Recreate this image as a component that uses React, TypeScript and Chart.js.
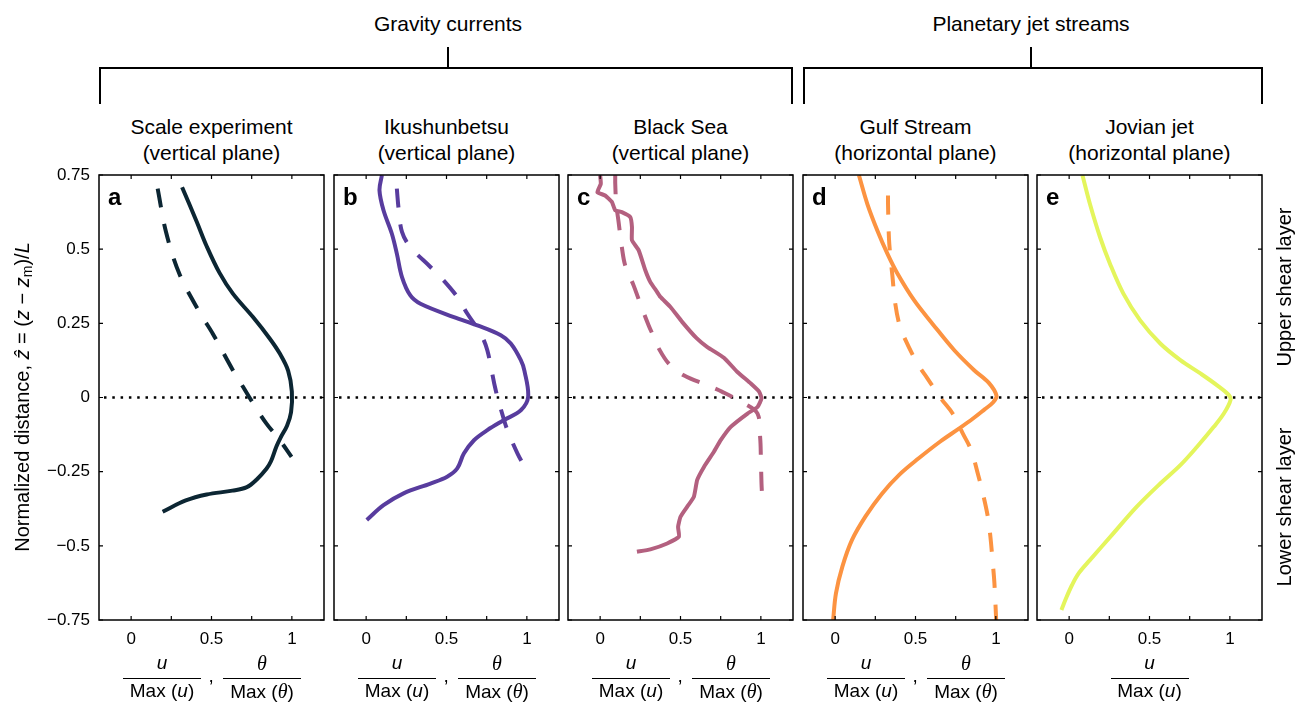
import React, { useEffect, useRef } from "react";
import { Chart, registerables } from "chart.js";

Chart.register(...registerables);

const FONT = '"Liberation Sans", Arial, Helvetica, sans-serif';
const SERIF = '"Liberation Serif", "DejaVu Serif", serif';

// ---------- axis definitions ----------
const xTicks = [0, 0.25, 0.5, 0.75, 1];
const xTickLabels: Record<string, string> = { "0": "0", "0.5": "0.5", "1": "1" };
const yTicks = [-0.75, -0.5, -0.25, 0, 0.25, 0.5, 0.75];
const yTickLabels: Record<string, string> = {
  "-0.75": "\u22120.75",
  "-0.5": "\u22120.5",
  "-0.25": "\u22120.25",
  "0": "0",
  "0.25": "0.25",
  "0.5": "0.5",
  "0.75": "0.75",
};
const xMin = -0.2;
const xMax = 1.2;
const yMin = -0.75;
const yMax = 0.75;

// ---------- panel texts ----------
const groupNames = ["Gravity currents", "Planetary jet streams"];
const panelLetters = ["a", "b", "c", "d", "e"];
const panelTitles = ["Scale experiment", "Ikushunbetsu", "Black Sea", "Gulf Stream", "Jovian jet"];
const panelPlanes = [
  "(vertical plane)",
  "(vertical plane)",
  "(vertical plane)",
  "(horizontal plane)",
  "(horizontal plane)",
];
const panelColors = ["#0c2633", "#583c9e", "#b3607f", "#fc9341", "#e4f55c"];

// ---------- data: [normalized value, normalized distance] ----------
const scaleU: [number, number][] = [
  [0.317, 0.709], [0.41, 0.59], [0.47, 0.51], [0.55, 0.42], [0.633, 0.35], [0.758, 0.271],
  [0.862, 0.199], [0.925, 0.148], [0.977, 0.09], [1.0, 0.02], [0.995, -0.05], [0.97, -0.095],
  [0.93, -0.135], [0.904, -0.165], [0.87, -0.215], [0.842, -0.24], [0.78, -0.277],
  [0.72, -0.302], [0.63, -0.314], [0.47, -0.327], [0.34, -0.347], [0.196, -0.385],
];
const scaleTheta: [number, number][] = [
  [0.165, 0.704], [0.217, 0.558], [0.3, 0.417], [0.425, 0.288], [0.508, 0.215], [0.633, 0.092],
  [0.696, 0.036], [0.779, -0.037], [0.842, -0.088], [0.925, -0.144], [0.998, -0.2],
];
const ikuU: [number, number][] = [
  [0.098, 0.749], [0.083, 0.698], [0.108, 0.631], [0.16, 0.552], [0.191, 0.485], [0.223, 0.406],
  [0.275, 0.344], [0.338, 0.316], [0.546, 0.271], [0.692, 0.243], [0.838, 0.21], [0.9, 0.182],
  [0.9625, 0.126], [0.985, 0.09], [1.008, 0.002], [0.9625, -0.043], [0.858, -0.076],
  [0.754, -0.11], [0.671, -0.144], [0.608, -0.189], [0.567, -0.239], [0.504, -0.267],
  [0.4, -0.29], [0.233, -0.323], [0.108, -0.363], [0.004, -0.413],
];
const ikuTheta: [number, number][] = [
  [0.191, 0.704], [0.202, 0.636], [0.223, 0.558], [0.275, 0.507], [0.4, 0.44], [0.473, 0.4],
  [0.567, 0.339], [0.629, 0.283], [0.7125, 0.215], [0.754, 0.159], [0.806, 0.025],
  [0.858, -0.076], [0.879, -0.11], [0.942, -0.189], [1.004, -0.25],
];
const blackSeaU: [number, number][] = [
  [0.0, 0.749], [0.004, 0.72], [-0.017, 0.692], [0.031, 0.681], [0.073, 0.659], [0.094, 0.631],
  [0.135, 0.625], [0.1875, 0.608], [0.198, 0.574], [0.198, 0.53], [0.24, 0.496], [0.281, 0.429],
  [0.3125, 0.389], [0.354, 0.356], [0.375, 0.339], [0.4375, 0.305], [0.51, 0.255], [0.6, 0.2],
  [0.667, 0.17], [0.77, 0.134], [0.854, 0.086], [0.9375, 0.047], [0.99, 0.019], [1.004, -0.003],
  [0.979, -0.032], [0.917, -0.054], [0.8125, -0.099], [0.75, -0.144], [0.708, -0.183],
  [0.646, -0.234], [0.604, -0.278], [0.583, -0.335], [0.542, -0.368], [0.5, -0.402],
  [0.485, -0.436], [0.49, -0.469], [0.417, -0.492], [0.3125, -0.512], [0.229, -0.52],
];
const blackSeaTheta: [number, number][] = [
  [0.094, 0.749], [0.094, 0.72], [0.1, 0.653], [0.115, 0.591], [0.135, 0.507], [0.156, 0.445],
  [0.208, 0.378], [0.25, 0.316], [0.302, 0.243], [0.333, 0.205], [0.36, 0.17], [0.427, 0.114],
  [0.52, 0.075], [0.667, 0.041], [0.76, 0.019], [0.896, -0.02], [0.979, -0.054], [0.996, -0.138],
  [1.0, -0.2], [1.004, -0.29], [1.01, -0.351],
];
const gulfU: [number, number][] = [
  [0.148, 0.749], [0.2, 0.653], [0.2625, 0.563], [0.325, 0.485], [0.3875, 0.418], [0.491, 0.328],
  [0.605, 0.249], [0.74, 0.16], [0.865, 0.092], [0.955, 0.05], [1.004, 0.006],
  [0.982, -0.017], [0.93, -0.04], [0.86, -0.07], [0.77, -0.105], [0.65, -0.15], [0.52, -0.205],
  [0.4, -0.26], [0.29, -0.325], [0.19, -0.4], [0.105, -0.48], [0.045, -0.57], [0.005, -0.66],
  [-0.0125, -0.75],
];
const gulfTheta: [number, number][] = [
  [0.329, 0.681], [0.329, 0.653], [0.335, 0.535], [0.346, 0.462], [0.356, 0.412], [0.371, 0.328],
  [0.398, 0.249], [0.429, 0.204], [0.5125, 0.114], [0.575, 0.064], [0.658, -0.003],
  [0.731, -0.054], [0.794, -0.121], [0.846, -0.177], [0.8875, -0.256], [0.919, -0.323],
  [0.95, -0.402], [0.966, -0.469], [0.981, -0.559], [0.991, -0.626], [1.002, -0.75],
];
const jovianU: [number, number][] = [
  [0.083, 0.749], [0.129, 0.653], [0.192, 0.541], [0.254, 0.451], [0.3375, 0.35], [0.442, 0.26],
  [0.567, 0.182], [0.692, 0.126], [0.817, 0.081], [0.921, 0.041], [0.994, 0.008],
  [1.004, -0.009], [0.9625, -0.054], [0.9, -0.099], [0.796, -0.166], [0.692, -0.228],
  [0.567, -0.29], [0.421, -0.368], [0.275, -0.458], [0.129, -0.548], [0.06, -0.592],
  [0.018, -0.632], [-0.018, -0.675], [-0.048, -0.716],
];

const solidSeries = [scaleU, ikuU, blackSeaU, gulfU, jovianU];
const dashedSeries: ([number, number][] | null)[] = [scaleTheta, ikuTheta, blackSeaTheta, gulfTheta, null];
const solidTension = [0.35, 0.35, 0.15, 0.35, 0.35];

// ---------- layout ----------
const PANEL_LEFTS = [99, 334, 568, 803, 1037];
const PANEL_TOP = 175;
const PANEL_W = 225;
const PANEL_H = 445;
const PAD = 8;
const X_AXIS_H = 32;
const Y_AXIS_W = 60;

const framePlugin = {
  id: "frame",
  afterDatasetsDraw(chart: any) {
    const { ctx, chartArea, scales } = chart;
    const { left, right, top, bottom } = chartArea;
    const xs = scales.x;
    const ys = scales.y;
    ctx.save();
    ctx.strokeStyle = "#000";
    ctx.lineWidth = 1.2;
    ctx.beginPath();
    xTicks.forEach((v) => {
      const px = xs.getPixelForValue(v);
      ctx.moveTo(px, bottom);
      ctx.lineTo(px, bottom - 4);
      ctx.moveTo(px, top);
      ctx.lineTo(px, top + 4);
    });
    yTicks.forEach((v) => {
      const py = ys.getPixelForValue(v);
      ctx.moveTo(left, py);
      ctx.lineTo(left + 4, py);
      ctx.moveTo(right, py);
      ctx.lineTo(right - 4, py);
    });
    ctx.stroke();
    ctx.lineWidth = 1.5;
    ctx.strokeRect(left, top, right - left, bottom - top);
    ctx.restore();
  },
};

function toPts(arr: [number, number][]) {
  return arr.map(([x, y]) => ({ x, y }));
}

function Panel({ index }: { index: number }) {
  const ref = useRef<HTMLCanvasElement>(null);
  const padL = index === 0 ? PANEL_LEFTS[0] : PAD;
  const yW = index === 0 ? Y_AXIS_W : 0;
  const cw = padL + PANEL_W + PAD;
  const ch = PAD + PANEL_H + X_AXIS_H;
  const cl = PANEL_LEFTS[index] - padL;
  const ct = PANEL_TOP - PAD;

  useEffect(() => {
    const color = panelColors[index];
    const datasets: any[] = [
      {
        data: toPts(solidSeries[index]),
        showLine: true,
        borderColor: color,
        borderWidth: 4,
        pointRadius: 0,
        tension: solidTension[index],
        borderCapStyle: "butt",
        borderJoinStyle: "round",
        order: 1,
      },
    ];
    const dashed = dashedSeries[index];
    if (dashed) {
      datasets.push({
        data: toPts(dashed),
        showLine: true,
        borderColor: color,
        borderWidth: 4,
        pointRadius: 0,
        tension: 0.35,
        borderDash: [19, 17],
        borderCapStyle: "butt",
        order: 2,
      });
    }
    datasets.push({
      data: [
        { x: xMin, y: 0 },
        { x: xMax, y: 0 },
      ],
      showLine: true,
      borderColor: "#000",
      borderWidth: 2.5,
      borderDash: [2.5, 5.8],
      borderDashOffset: -5,
      pointRadius: 0,
      order: 10,
    });

    const chart = new Chart(ref.current as HTMLCanvasElement, {
      type: "scatter",
      data: { datasets },
      options: {
        animation: false,
        responsive: false,
        devicePixelRatio: 1,
        events: [],
        layout: { padding: { left: padL - yW, right: PAD, top: PAD, bottom: 0 } },
        plugins: { legend: { display: false }, tooltip: { enabled: false } },
        scales: {
          x: {
            type: "linear",
            min: xMin,
            max: xMax,
            afterBuildTicks: (s: any) => {
              s.ticks = xTicks.map((v) => ({ value: v }));
            },
            ticks: {
              autoSkip: false,
              maxRotation: 0,
              padding: 9,
              color: "#000",
              font: { family: FONT, size: 17 },
              callback: (v: any) => xTickLabels[String(v)] ?? "",
            },
            grid: { display: false, drawTicks: false, tickLength: 0 },
            border: { display: false },
            afterFit: (s: any) => {
              s.height = X_AXIS_H;
              s.paddingLeft = 0;
              s.paddingRight = 0;
            },
          },
          y: {
            type: "linear",
            min: yMin,
            max: yMax,
            afterBuildTicks: (s: any) => {
              s.ticks = yTicks.map((v) => ({ value: v }));
            },
            ticks: {
              display: index === 0,
              autoSkip: false,
              padding: 9,
              color: "#000",
              font: { family: FONT, size: 17 },
              callback: (v: any) => yTickLabels[String(v)] ?? "",
            },
            grid: { display: false, drawTicks: false, tickLength: 0 },
            border: { display: false },
            afterFit: (s: any) => {
              s.width = yW;
              s.paddingTop = 0;
              s.paddingBottom = 0;
            },
          },
        },
      },
      plugins: [framePlugin],
    } as any);
    return () => chart.destroy();
  }, [index]);

  return (
    <canvas
      ref={ref}
      width={cw}
      height={ch}
      style={{ position: "absolute", left: cl, top: ct, width: cw, height: ch }}
    />
  );
}

function Fraction({ cx, num, den }: { cx: number; num: React.ReactNode; den: React.ReactNode }) {
  return (
    <div
      style={{
        position: "absolute",
        left: cx - 39,
        top: 651,
        width: 78,
        textAlign: "center",
        fontSize: 19,
        fontFamily: FONT,
        color: "#000",
      }}
    >
      <div style={{ height: 27, lineHeight: "24px" }}>{num}</div>
      <div style={{ borderTop: "1.4px solid #000" }} />
      <div style={{ lineHeight: "24px", whiteSpace: "nowrap" }}>{den}</div>
    </div>
  );
}

const uNum = <i>u</i>;
const uDen = (
  <span>
    Max (<i>u</i>)
  </span>
);
const thNum = <i style={{ fontFamily: SERIF, fontSize: 20 }}>θ</i>;
const thDen = (
  <span>
    Max (<i style={{ fontFamily: SERIF, fontSize: 20 }}>θ</i>)
  </span>
);

function Bracket({ x1, x2, xc, label }: { x1: number; x2: number; xc: number; label: string }) {
  const lw = 2;
  return (
    <>
      <div
        style={{
          position: "absolute",
          left: xc - 200,
          top: 11,
          width: 400,
          lineHeight: "26px",
          textAlign: "center",
          fontSize: 21,
          fontFamily: FONT,
        }}
      >
        {label}
      </div>
      <div style={{ position: "absolute", left: x1, top: 67, width: x2 - x1, height: lw, background: "#000" }} />
      <div style={{ position: "absolute", left: x1, top: 67, width: lw, height: 37, background: "#000" }} />
      <div style={{ position: "absolute", left: x2 - lw, top: 67, width: lw, height: 37, background: "#000" }} />
      <div style={{ position: "absolute", left: xc - 1, top: 47, width: lw, height: 21, background: "#000" }} />
    </>
  );
}

function Rotated({ cx, cy, w, children, size }: { cx: number; cy: number; w: number; size: number; children: React.ReactNode }) {
  const h = 30;
  return (
    <div
      style={{
        position: "absolute",
        left: cx - w / 2,
        top: cy - h / 2,
        width: w,
        height: h,
        lineHeight: h + "px",
        textAlign: "center",
        fontSize: size,
        fontFamily: FONT,
        whiteSpace: "nowrap",
        transform: "rotate(-90deg)",
      }}
    >
      {children}
    </div>
  );
}

export default function App() {
  const centers = PANEL_LEFTS.map((l) => l + PANEL_W / 2);
  return (
    <div
      style={{
        position: "fixed",
        left: 0,
        top: 0,
        width: 1298,
        height: 705,
        background: "#fff",
        fontFamily: FONT,
        color: "#000",
        overflow: "hidden",
      }}
    >
      <Bracket x1={99} x2={793} xc={448} label={groupNames[0]} />
      <Bracket x1={803} x2={1263} xc={1031} label={groupNames[1]} />

      {panelTitles.map((t, i) => (
        <div
          key={"t" + i}
          style={{
            position: "absolute",
            left: centers[i] - 150,
            top: 114,
            width: 300,
            textAlign: "center",
            fontSize: 21,
            lineHeight: "26px",
          }}
        >
          {t}
          <br />
          {panelPlanes[i]}
        </div>
      ))}

      {PANEL_LEFTS.map((_, i) => (
        <Panel key={"p" + i} index={i} />
      ))}

      {panelLetters.map((l, i) => (
        <div
          key={"l" + i}
          style={{
            position: "absolute",
            left: PANEL_LEFTS[i] + 9,
            top: 185,
            fontSize: 24,
            lineHeight: "24px",
            fontWeight: "bold",
          }}
        >
          {l}
        </div>
      ))}

      {centers.map((c, i) =>
        i < 4 ? (
          <React.Fragment key={"f" + i}>
            <Fraction cx={c - 49.5} num={uNum} den={uDen} />
            <div style={{ position: "absolute", left: c - 3, top: 664, fontSize: 19, lineHeight: "24px" }}>,</div>
            <Fraction cx={c + 50.5} num={thNum} den={thDen} />
          </React.Fragment>
        ) : (
          <Fraction key={"f" + i} cx={c} num={uNum} den={uDen} />
        )
      )}

      <Rotated cx={22} cy={397} w={460} size={20}>
        Normalized distance, <i>ẑ</i> = (<i>z</i> − <i>z</i>
        <sub style={{ fontSize: 14, verticalAlign: "-3px" }}>m</sub>)/<i>L</i>
      </Rotated>
      <Rotated cx={1284} cy={287} w={220} size={20}>
        Upper shear layer
      </Rotated>
      <Rotated cx={1284} cy={507} w={220} size={20}>
        Lower shear layer
      </Rotated>
    </div>
  );
}
